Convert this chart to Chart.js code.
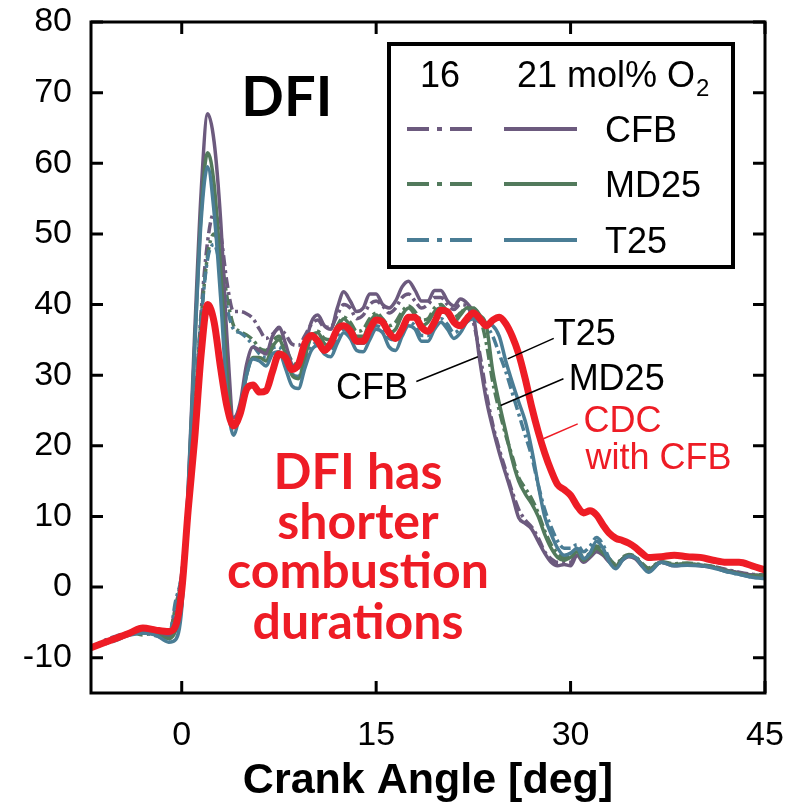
<!DOCTYPE html>
<html lang="en">
<head>
<meta charset="UTF-8">
<title>DFI heat release rate</title>
<style>
  html, body { margin: 0; padding: 0; background: #fff; }
  #hrr { display: block; }
</style>
</head>
<body>
<canvas id="hrr" width="796" height="808"></canvas>

<script src="https://cdn.jsdelivr.net/npm/chart.js@4.4.1/dist/chart.umd.min.js"></script>
<script>
// crank angle grid shared by every trace [deg]
var crankAngle = [
  -7, -6, -5, -4, -3, -2, -1, -0.5, 0, 0.5,
  1, 1.5, 2, 2.5, 3, 3.5, 4, 4.5, 5, 5.5,
  6, 6.5, 7, 7.5, 8, 8.5, 9, 9.5, 10, 10.5,
  11, 11.5, 12, 12.5, 13, 13.5, 14, 14.5, 15, 15.5,
  16, 16.5, 17, 17.5, 18, 18.5, 19, 19.5, 20, 20.5,
  21, 21.5, 22, 22.5, 23, 23.5, 24, 24.5, 25, 25.5,
  26, 26.5, 27, 27.5, 28, 28.5, 29, 29.5, 30, 30.5,
  31, 31.5, 32, 32.5, 33, 33.5, 34, 34.5, 35, 35.5,
  36, 37, 38, 39, 40, 41, 42, 43, 44, 45
];

// CDC reference with CFB
var cdcCFB = [
  -8.6, -7.9, -7.2, -6.5, -5.8, -6.1, -6.3, -5.6, -0.5, 11,
  21, 33, 40, 37.5, 31, 25.5, 22.8, 24.5, 28, 28.6,
  27.6, 27.8, 30.5, 33, 32.5, 30.8, 31.5, 34.5, 35.6, 34.8,
  33.5, 34.5, 36.5, 37, 36.3, 34.8, 34.8, 36.5, 37.8, 37.5,
  36, 35.2, 36.5, 38.2, 38.2, 36.8, 36.2, 37.5, 39.2, 39,
  37.5, 37, 38, 38.8, 38, 37, 37.8, 38.2, 37.3, 35.5,
  33, 29.5, 25.5, 22, 19, 16.5, 14.5, 13.8, 13, 11.5,
  10.5, 10.8, 10.2, 8.8, 7.6, 6.9, 6.6, 6.2, 5.6, 4.8,
  4.2, 4.3, 4.5, 4.3, 4.2, 3.8, 3.5, 3.5, 3.0, 2.4
];

// DFI, 21 mol% O2
var cfb21 = [
  -8.6, -7.8, -7.2, -6.6, -6.2, -6.3, -7.0, -6.0, -2.0, 14,
  36, 56, 67, 63, 52, 35, 24, 26, 31.5, 34,
  33.5, 33, 35.5, 36.8, 34.5, 31.5, 31, 34, 37.5, 38.5,
  37, 36.5, 39.5, 41.8, 40.5, 39, 39.5, 41.5, 41.5, 40,
  39.5, 40.5, 42.5, 43.3, 42, 40.5, 40.5, 42, 42, 40.5,
  39.8, 40.8, 40.2, 38.5, 32, 26.5, 22.5, 19, 16, 13,
  9.8, 9, 8.2, 6.5, 4.8, 3.5, 3, 3.2, 3, 4.5,
  3.5, 4.2, 5, 4.5, 3.5, 2.8, 3.8, 4.3, 4, 3,
  2.3, 3.5, 3, 3.2, 3, 2.8, 2.4, 2, 1.7, 1.6
];
var md25_21 = [
  -8.6, -7.9, -7.3, -6.7, -6.5, -6.7, -7.3, -6.3, -2.5, 13,
  34, 53, 61.5, 57, 45, 30, 23, 25, 30, 32.5,
  32.5, 32, 34, 35, 33, 30, 29.5, 32.5, 35.5, 36,
  34.5, 34, 36.5, 38, 37, 35.5, 35.5, 37.5, 38.5, 37.5,
  36, 36.5, 38.5, 39.5, 38.5, 37, 37.5, 39, 39.5, 38.5,
  37.5, 38.5, 39.5, 39.5, 38.5, 37, 30.5, 26, 22, 18,
  15, 13.2, 11.8, 10, 7.5, 5.5, 4.2, 3.8, 4.2, 5,
  3.8, 4.5, 5.5, 4.8, 3.8, 3, 4, 4.5, 4.2, 3.2,
  2.5, 3.5, 3.2, 3.3, 3.1, 2.8, 2.3, 1.9, 1.6, 1.7
];
var t25_21 = [
  -8.6, -8.0, -7.4, -6.8, -6.5, -6.8, -7.8, -7.5, -3.0, 14,
  34, 52, 59.5, 53, 41, 27, 21.5, 25, 30, 32.3,
  32, 31.3, 33, 33.3, 31, 28.5, 28.1, 31, 33.5, 34.2,
  33, 32.6, 34.5, 36, 35.2, 33.5, 33.3, 35, 36.5, 36,
  34, 33.5, 35.5, 37, 36.5, 34.8, 34.8, 36.5, 37.5, 36.5,
  35.2, 36, 37.5, 38, 37.5, 37.3, 37, 35.5, 32, 29,
  26.2, 23.5, 19.5, 14.5, 10, 7.5, 5.5, 4.5, 4.8, 5.5,
  4, 4.8, 6.5, 5.5, 3.5, 2.6, 3.8, 4.4, 4.2, 3,
  2.1, 3.5, 3, 3.1, 3, 2.7, 2.2, 1.8, 1.4, 1.2
];

// DFI, 16 mol% O2
var cfb16 = [
  -8.6, -7.6, -6.9, -6.4, -6.3, -6.5, -6.6, -3.0, 2.0, 12,
  25, 39, 49, 53, 50, 43, 39, 39, 38.7, 38,
  36.5, 35.2, 35.8, 36.6, 35.8, 34.4, 34.2, 35.6, 37.2, 37.8,
  36.8, 36.8, 38.5, 40, 39.5, 38, 38.5, 40, 40.5, 39.8,
  38.8, 39.5, 41, 41.5, 40.5, 39.5, 40, 41, 41, 40,
  39.3, 40, 39.8, 37.5, 33, 27.5, 23, 19.5, 16.5, 13.5,
  11, 9.5, 8.5, 7, 5, 4, 3.5, 3.5, 3.5, 4.8,
  4, 4.5, 5.3, 4.8, 3.8, 3, 4, 4.5, 4.2, 3.2,
  2.5, 3.6, 3.1, 3.3, 3.1, 2.9, 2.5, 2.1, 1.8, 1.7
];
var md25_16 = [
  -8.6, -7.8, -7.2, -6.4, -6.8, -6.3, -6.8, -3.0, 1.5, 12,
  25, 38, 47, 50, 47, 41, 37, 36.2, 35.7, 35,
  33.8, 33.5, 34.8, 35.5, 34, 32, 31.5, 33.2, 35.5, 36.2,
  35.2, 35, 37, 38.2, 37.5, 36.2, 36.5, 38, 38.8, 38,
  37, 37.5, 39, 39.8, 39, 37.8, 38, 39.5, 40, 39,
  38.2, 38.8, 39.6, 39.5, 38.2, 34.5, 29, 25, 21.5, 18.5,
  15.5, 14, 12.5, 10.5, 8, 6, 4.8, 4.2, 4.6, 5.4,
  4.2, 4.8, 5.8, 5, 4, 3.2, 4.2, 4.6, 4.3, 3.4,
  2.7, 3.6, 3.3, 3.4, 3.2, 2.9, 2.4, 2, 1.7, 1.6
];
var t25_16 = [
  -8.6, -8.1, -7.5, -6.7, -6.5, -6.9, -7.4, -2.2, 1.8, 12,
  25, 38, 46.5, 48.5, 45, 39.5, 36.5, 36, 35.3, 34.2,
  33, 32.5, 33.8, 34, 32.3, 30.2, 29.8, 31.8, 34, 34.6,
  33.6, 33.5, 35.5, 36.5, 35.8, 34.5, 34.5, 36, 37, 36.5,
  35.2, 35, 36.5, 37.6, 37, 35.6, 35.6, 37, 38, 37.2,
  36, 36.6, 37.6, 38, 37.8, 37, 35.5, 33, 30.5, 27.5,
  24.5, 21.5, 18.5, 14.5, 11, 8.5, 6.5, 5.5, 5.5, 6,
  5, 5.8, 7, 6, 4, 3, 4, 4.5, 4.2, 3.2,
  2.5, 3.5, 3.1, 3.2, 3.1, 2.8, 2.2, 1.8, 1.4, 1.3
];

var xTicks = [0, 15, 30, 45];
var yTicks = [-10, 0, 10, 20, 30, 40, 50, 60, 70, 80];

var PURPLE = '#6c5a7e';
var GREEN = '#527a5c';
var BLUE = '#4a7d95';
var RED = '#ee1c25';
var SANS = '"Liberation Sans", Arial, Helvetica, sans-serif';
var HUMANIST = 'Lato, "Open Sans", sans-serif';
var DASH_DOT = [11, 4, 3, 4];

function trace(label, values, color, dashed, width) {
  return {
    label: label,
    data: values.map(function(v, i) { return { x: crankAngle[i], y: v }; }),
    borderColor: color,
    borderWidth: width,
    borderDash: dashed ? DASH_DOT : [],
    pointRadius: 0,
    fill: false,
    cubicInterpolationMode: 'monotone'
  };
}

// keep tick labels from pushing the plot area around
function noLabelPadding(s) {
  s.paddingTop = 0;
  s.paddingBottom = 0;
  s.paddingLeft = 0;
  s.paddingRight = 0;
}

// legend box, frame with inward ticks and the text notes
var decorations = {
  id: 'decorations',
  afterDatasetsDraw: function(chart) {
    var ctx = chart.ctx;
    var a = chart.chartArea;
    var xs = chart.scales.x, ys = chart.scales.y;
    function X(v) { return xs.getPixelForValue(v); }
    function Y(v) { return ys.getPixelForValue(v); }

    ctx.save();

    // plot frame
    ctx.strokeStyle = '#000';
    ctx.lineWidth = 3;
    ctx.strokeRect(a.left, a.top, a.right - a.left, a.bottom - a.top);
    ctx.beginPath();
    yTicks.forEach(function(v) {
      ctx.moveTo(a.left, Y(v)); ctx.lineTo(a.left + 12, Y(v));
      ctx.moveTo(a.right, Y(v)); ctx.lineTo(a.right - 12, Y(v));
    });
    xTicks.forEach(function(v) {
      ctx.moveTo(X(v), a.bottom); ctx.lineTo(X(v), a.bottom - 12);
      ctx.moveTo(X(v), a.top); ctx.lineTo(X(v), a.top + 12);
    });
    ctx.stroke();

    // legend
    var bx = 389, by = 44, bw = 344, bh = 223;
    ctx.fillStyle = '#fff';
    ctx.fillRect(bx, by, bw, bh);
    ctx.lineWidth = 4;
    ctx.strokeRect(bx, by, bw, bh);

    ctx.fillStyle = '#000';
    ctx.font = '36px ' + SANS;
    ctx.textBaseline = 'alphabetic';
    ctx.textAlign = 'center';
    ctx.fillText('16', 440, 87);
    ctx.textAlign = 'left';
    ctx.fillText('21 mol% O', 517, 87);
    var w = ctx.measureText('21 mol% O').width;
    ctx.font = '24px ' + SANS;
    ctx.fillText('2', 517 + w + 1, 96);

    var rows = [['CFB', PURPLE, 129], ['MD25', GREEN, 184], ['T25', BLUE, 240]];
    rows.forEach(function(r) {
      ctx.strokeStyle = r[1];
      ctx.lineWidth = 4;
      ctx.setLineDash([22, 8, 5, 8]);
      ctx.beginPath(); ctx.moveTo(407, r[2]); ctx.lineTo(474, r[2]); ctx.stroke();
      ctx.setLineDash([]);
      ctx.beginPath(); ctx.moveTo(504, r[2]); ctx.lineTo(577, r[2]); ctx.stroke();
      ctx.fillStyle = '#000';
      ctx.font = '36px ' + SANS;
      ctx.fillText(r[0], 605, r[2] + 13);
    });

    // panel label
    ctx.font = 'bold 56px ' + HUMANIST;
    ctx.fillText('DFI', X(4.6), Y(66.7));

    // curve labels with leader lines
    ctx.font = '36px ' + SANS;
    ctx.fillText('CFB', X(11.9), Y(26.6));
    ctx.fillText('T25', X(28.7), Y(34.2));
    ctx.fillText('MD25', X(29.85), Y(27.9));
    ctx.strokeStyle = '#000';
    ctx.lineWidth = 1.5;
    ctx.beginPath();
    ctx.moveTo(X(18.1), Y(29.1)); ctx.lineTo(X(22.85), Y(32.6));
    ctx.moveTo(X(25.15), Y(32.3)); ctx.lineTo(X(28.7), Y(35.2));
    ctx.moveTo(X(24.6), Y(25.7)); ctx.lineTo(X(29.45), Y(29.5));
    ctx.stroke();

    ctx.fillStyle = RED;
    ctx.fillText('CDC', X(31.0), Y(22.0));
    ctx.fillText('with CFB', X(31.15), Y(16.7));
    ctx.strokeStyle = RED;
    ctx.beginPath();
    ctx.moveTo(X(27.9), Y(21.0)); ctx.lineTo(X(30.55), Y(23.1));
    ctx.stroke();

    // conclusion
    ctx.font = 'bold 50px ' + HUMANIST;
    ctx.textAlign = 'center';
    var cx = X(13.6);
    ctx.fillText('DFI has', cx, Y(13.9));
    ctx.fillText('shorter', cx, Y(6.8));
    ctx.fillText('combustion', cx, Y(-0.2));
    ctx.fillText('durations', cx, Y(-7.3));

    ctx.restore();
  }
};

new Chart(document.getElementById('hrr').getContext('2d'), {
  type: 'line',
  data: {
    datasets: [
      trace('CDC with CFB', cdcCFB, RED, false, 7),
      trace('T25 21', t25_21, BLUE, false, 3.5),
      trace('MD25 21', md25_21, GREEN, false, 3.5),
      trace('CFB 21', cfb21, PURPLE, false, 3.5),
      trace('T25 16', t25_16, BLUE, true, 3.5),
      trace('MD25 16', md25_16, GREEN, true, 3.5),
      trace('CFB 16', cfb16, PURPLE, true, 3.5)
    ]
  },
  options: {
    responsive: false,
    animation: false,
    layout: { padding: { top: 22, right: 31, left: 0, bottom: 0 } },
    plugins: { legend: { display: false }, tooltip: { enabled: false } },
    scales: {
      x: {
        type: 'linear',
        min: -7,
        max: 45,
        afterBuildTicks: function(s) { s.ticks = xTicks.map(function(v) { return { value: v }; }); },
        afterFit: function(s) { s.height = 115; noLabelPadding(s); },
        grid: { display: false, drawTicks: false },
        border: { display: false },
        ticks: { color: '#000', font: { family: SANS, size: 34 }, padding: 22, maxRotation: 0 },
        title: {
          display: true,
          text: 'Crank Angle [deg]',
          color: '#000',
          font: { family: SANS, size: 43, weight: 'bold' },
          padding: { top: 0, bottom: 1 }
        }
      },
      y: {
        type: 'linear',
        min: -15,
        max: 80,
        afterBuildTicks: function(s) { s.ticks = yTicks.map(function(v) { return { value: v }; }); },
        afterFit: function(s) { s.width = 91; noLabelPadding(s); },
        grid: { display: false, drawTicks: false },
        border: { display: false },
        ticks: { color: '#000', font: { family: SANS, size: 34 }, padding: 19 }
      }
    }
  },
  plugins: [decorations]
});
</script>
</body>
</html>
